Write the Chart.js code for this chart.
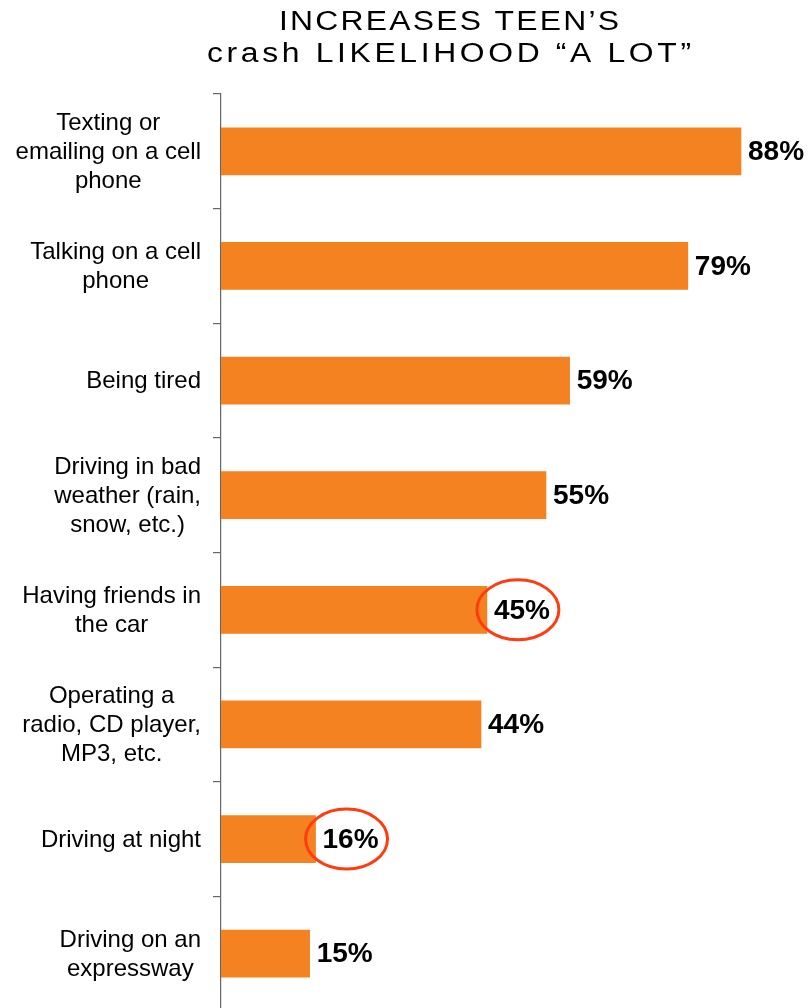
<!DOCTYPE html>
<html lang="en">
<head>
    <meta charset="UTF-8">
    <title>Increases teen's crash likelihood "a lot"</title>
    <script src="https://cdn.jsdelivr.net/npm/chart.js"></script>
    <style>
        body {
            margin: 0;
            padding: 0;
            background: #fff;
            overflow: hidden;
        }
        canvas {
            display: block;
        }
    </style>
</head>
<body>
    <canvas id="crashChart" width="808" height="1012"></canvas>

    <script>
        // Survey answers
        const categories = [
            ['Texting or', 'emailing on a cell', 'phone'],
            ['Talking on a cell', 'phone'],
            ['Being tired'],
            ['Driving in bad', 'weather (rain,', 'snow, etc.)'],
            ['Having friends in', 'the car'],
            ['Operating a', 'radio, CD player,', 'MP3, etc.'],
            ['Driving at night'],
            ['Driving on an', 'expressway']
        ];
        const values = [88, 79, 59, 55, 45, 44, 16, 15];
        const circled = [4, 6];   // answers with a ring round their value
        const titleLines = ['INCREASES TEEN\u2019S', 'crash LIKELIHOOD \u201CA LOT\u201D'];

        const FONT = '"Liberation Sans", Arial, Helvetica, sans-serif';
        const ORANGE = '#F58220';
        const RING = '#FF3B0F';

        // wide, tracked-out title text filling a given width
        function spacedText(ctx, text, x, y, width, stretch) {
            const chars = Array.from(text);
            const natural = ctx.measureText(text).width * stretch;
            const gap = (width - natural) / (chars.length - 1);
            let cx = x;
            chars.forEach(ch => {
                ctx.save();
                ctx.translate(cx, y);
                ctx.scale(stretch, 1);
                ctx.fillText(ch, 0, 0);
                ctx.restore();
                cx += ctx.measureText(ch).width * stretch + gap;
            });
        }

        const titlePlugin = {
            id: 'titlePlugin',
            afterDraw(chart) {
                const ctx = chart.ctx;
                ctx.save();
                ctx.fillStyle = '#000';
                ctx.font = '27px ' + FONT;
                ctx.textAlign = 'left';
                ctx.textBaseline = 'alphabetic';
                spacedText(ctx, titleLines[0], 279, 30, 340, 1.18);
                spacedText(ctx, titleLines[1], 207, 62, 484, 1.18);
                ctx.restore();
            }
        };

        // category names: each block right aligned, its lines centred
        const categoryLabels = {
            id: 'categoryLabels',
            afterDraw(chart) {
                const ctx = chart.ctx;
                const yScale = chart.scales.y;
                const right = chart.chartArea.left - 20;
                const lineH = 28.8;
                ctx.save();
                ctx.fillStyle = '#000';
                ctx.font = '24px ' + FONT;
                ctx.textAlign = 'center';
                ctx.textBaseline = 'middle';
                categories.forEach((lines, i) => {
                    const blockW = Math.max(...lines.map(l => ctx.measureText(l).width));
                    const cx = right - blockW / 2;
                    const cy = yScale.getPixelForValue(i);
                    lines.forEach((line, j) => {
                        ctx.fillText(line, cx, cy + (j - (lines.length - 1) / 2) * lineH + 1);
                    });
                });
                ctx.restore();
            }
        };

        // value at the end of each bar, plus the red rings
        const valueLabels = {
            id: 'valueLabels',
            afterDatasetsDraw(chart) {
                const ctx = chart.ctx;
                const meta = chart.getDatasetMeta(0);
                ctx.save();
                ctx.fillStyle = '#000';
                ctx.font = 'bold 28px ' + FONT;
                ctx.textAlign = 'left';
                ctx.textBaseline = 'middle';
                meta.data.forEach((bar, i) => {
                    ctx.fillText(values[i] + '%', bar.x + 7, bar.y + 1);
                    if (circled.includes(i)) {
                        ctx.beginPath();
                        ctx.ellipse(bar.x + 31, bar.y, 41, 30, 0, 0, Math.PI * 2);
                        ctx.lineWidth = 3;
                        ctx.strokeStyle = RING;
                        ctx.stroke();
                    }
                });
                ctx.restore();
            }
        };

        new Chart(document.getElementById('crashChart').getContext('2d'), {
            type: 'bar',
            data: {
                labels: categories,
                datasets: [{
                    data: values,
                    backgroundColor: ORANGE,
                    barThickness: 47
                }]
            },
            options: {
                indexAxis: 'y',
                responsive: false,
                animation: false,
                layout: {
                    padding: { top: 94, bottom: 1, left: 0, right: 2 }
                },
                scales: {
                    x: {
                        display: false,
                        min: 0,
                        max: 99
                    },
                    y: {
                        afterFit(scale) { scale.width = 221; },
                        ticks: { display: false },
                        grid: {
                            offset: true,
                            drawOnChartArea: false,
                            drawTicks: true,
                            tickLength: 8,
                            color: '#666',
                            lineWidth: 1.2
                        },
                        border: { color: '#666', width: 1.2 }
                    }
                },
                plugins: {
                    legend: { display: false },
                    tooltip: { enabled: false }
                }
            },
            plugins: [titlePlugin, categoryLabels, valueLabels]
        });
    </script>
</body>
</html>
